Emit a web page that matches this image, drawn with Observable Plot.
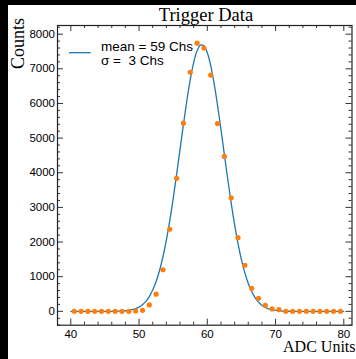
<!DOCTYPE html>
<html><head><meta charset="utf-8">
<script src="https://cdn.jsdelivr.net/npm/d3@7"></script>
<script src="https://cdn.jsdelivr.net/npm/@observablehq/plot@0.6"></script>
<style>
html,body{margin:0;padding:0;background:#000;width:356px;height:359px;overflow:hidden}
#chart{position:absolute;left:8px;top:5px;width:348px;height:354px;background:#fff}
</style></head><body><div id="chart"></div>
<script>
// Histogram bin centres (ADC units) and counts
const binCenters = [40.5,41.5,42.5,43.5,44.5,45.5,46.5,47.5,48.5,49.5,50.5,51.5,52.5,53.5,54.5,55.5,56.5,57.5,58.5,59.5,60.5,61.5,62.5,63.5,64.5,65.5,66.5,67.5,68.5,69.5,70.5,71.5,72.5,73.5,74.5,75.5,76.5,77.5,78.5,79.5];
const counts = [0,0,0,0,0,0,0,0,0,10,30,185,495,1200,2370,3840,5430,6900,7740,7600,6820,5420,4470,3275,2125,1330,665,375,175,70,50,0,0,0,0,0,0,0,0,0];
// Fitted curve
const fitX = [40,44,45,46,47,48,48.5,49,49.5,50,50.5,51,51.5,52,52.5,53,53.5,54,54.5,55,55.5,56,56.5,57,57.5,58,58.5,59,59.5,60,60.5,61,61.5,62,62.5,63,63.5,64,64.5,65,65.5,66,66.5,67,67.5,68,68.5,69,69.5,70,71,72,73,74,80];
const fitY = [0,0.1,0.4,1.6,5.4,16.8,28.7,47.9,77.9,123,191,289,426,613,860,1178,1576,2057,2619,3254,3946,4670,5394,6079,6687,7177,7518,7685,7666,7463,7090,6573,5947,5251,4524,3805,3122,2500,1954,1490,1109,805,571,395,266,176,113,71,43,26,8.6,2.6,0.7,0.2,0];
// Axis ticks
const xTicks = [40,50,60,70,80];
const xMinor = [42,44,46,48,52,54,56,58,62,64,66,68,72,74,76,78];
const yTicks = [0,1000,2000,3000,4000,5000,6000,7000,8000];
const yMinor = [-400,-200,200,400,600,800,1200,1400,1600,1800,2200,2400,2600,2800,3200,3400,3600,3800,4200,4400,4600,4800,5200,5400,5600,5800,6200,6400,6600,6800,7200,7400,7600,7800,8200];
// Texts
const titleText = "Trigger Data";
const xLabel = "ADC Units";
const yLabel = "Counts";
const legendLines = ["mean = 59 Chs", "\u03c3 =  3 Chs"];

const points = binCenters.map((x, i) => ({x, y: counts[i]}));
const fit = fitX.map((x, i) => ({x, y: fitY[i]}));

const W = 348, H = 354, mL = 49, mR = 4.5, mT = 20, mB = 34.3;
const fw = W - mL - mR, fh = H - mT - mB;
const tickColor = "#333";
const major = 6, minor = 3;

const plot = Plot.plot({
  width: W, height: H,
  marginLeft: mL, marginRight: mR, marginTop: mT, marginBottom: mB,
  style: {fontFamily: "'Liberation Sans', Arial, Helvetica, sans-serif", fontSize: "11.5px", background: "white", color: "#000", overflow: "visible"},
  x: {domain: [38.05, 81.2]},
  y: {domain: [-400, 8250]},
  marks: [
    Plot.axisX({ticks: xTicks, anchor: "bottom", tickSize: 0, tickPadding: 5, label: null, tickFormat: d => String(d)}),
    Plot.axisY({ticks: yTicks, anchor: "left", tickSize: 0, tickPadding: 2.5, label: null, tickFormat: d => String(d)}),
    Plot.line(fit, {x: "x", y: "y", stroke: "#1f77b4", strokeWidth: 1.3, curve: "catmull-rom"}),
    Plot.dot(points, {x: "x", y: "y", r: 2.6, fill: "#ff7f0e"}),
    // inward ticks on all four sides
    Plot.ruleX(xTicks, {x: d => d, insetTop: fh - major, stroke: tickColor}),
    Plot.ruleX(xTicks, {x: d => d, insetBottom: fh - major, stroke: tickColor}),
    Plot.ruleX(xMinor, {x: d => d, insetTop: fh - minor, stroke: tickColor}),
    Plot.ruleX(xMinor, {x: d => d, insetBottom: fh - minor, stroke: tickColor}),
    Plot.ruleY(yTicks, {y: d => d, insetRight: fw - major, stroke: tickColor}),
    Plot.ruleY(yTicks, {y: d => d, insetLeft: fw - major, stroke: tickColor}),
    Plot.ruleY(yMinor, {y: d => d, insetRight: fw - minor, stroke: tickColor}),
    Plot.ruleY(yMinor, {y: d => d, insetLeft: fw - minor, stroke: tickColor}),
    Plot.frame({stroke: "#222", strokeWidth: 1.2})
  ]
});

const svg = d3.select(plot);
const serif = "'Liberation Serif', 'Times New Roman', Times, serif";
svg.append("text").attr("x", 198).attr("y", 16).attr("text-anchor", "middle")
  .attr("font-family", serif).attr("font-size", 18.5).attr("fill", "#000").text(titleText);
svg.append("text").attr("x", 347.5).attr("y", 347).attr("text-anchor", "end")
  .attr("font-family", serif).attr("font-size", 16).attr("fill", "#000").text(xLabel);
svg.append("text").attr("transform", "translate(15.5,13) rotate(-90)").attr("text-anchor", "end")
  .attr("font-family", serif).attr("font-size", 18).attr("fill", "#000").text(yLabel);
// legend
svg.append("line").attr("x1", 61).attr("x2", 82.7).attr("y1", 47.7).attr("y2", 47.7)
  .attr("stroke", "#1f77b4").attr("stroke-width", 1.3);
legendLines.forEach((t, i) => {
  svg.append("text").attr("x", 93).attr("y", 45.7 + i * 14.3).attr("text-anchor", "start")
    .attr("font-size", 13.5).attr("fill", "#000").style("white-space", "pre").text(t);
});

document.getElementById("chart").appendChild(plot);
</script></body></html>
